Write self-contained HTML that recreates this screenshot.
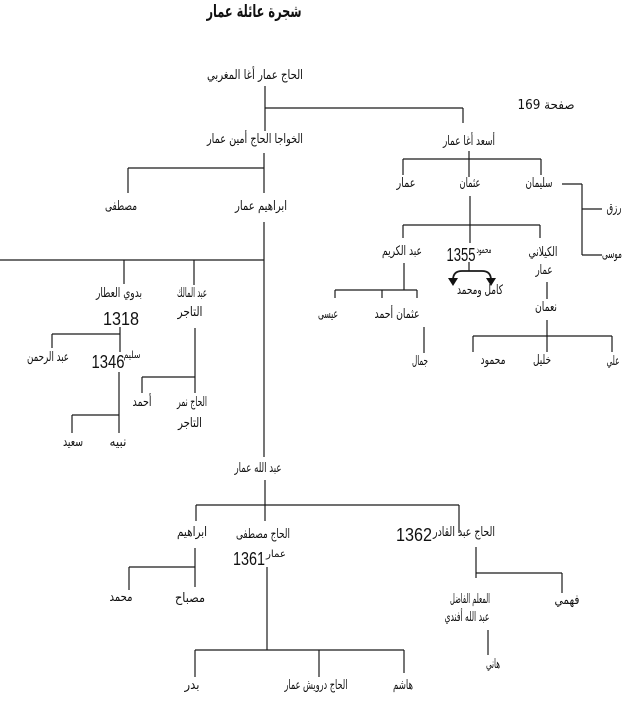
<!DOCTYPE html>
<html><head><meta charset="utf-8">
<style>
html,body{margin:0;padding:0;background:#fff;}
svg{display:block;}
text{font-family:"DejaVu Sans","Liberation Sans",sans-serif;font-size:13px;fill:#111;text-anchor:middle;}
.n{font-family:"Liberation Sans",sans-serif;font-size:18px;}
.s{font-size:10px;}
.t{font-weight:bold;font-size:17px;}
line,path{stroke:#1a1a1a;stroke-width:1.2;fill:none;}
</style></head>
<body>
<svg width="632" height="723" viewBox="0 0 632 723" xmlns="http://www.w3.org/2000/svg">
<!-- title -->
<text class="t" x="254" y="17" textLength="95" lengthAdjust="spacingAndGlyphs">شجرة عائلة عمار</text>

<!-- root -->
<text x="255" y="79" textLength="96" lengthAdjust="spacingAndGlyphs">الحاج عمار أغا المغربي</text>
<line x1="265" y1="86" x2="265" y2="131"/>
<line x1="265" y1="108" x2="463" y2="108"/>
<line x1="463" y1="108" x2="463" y2="123"/>
<text x="546" y="109" textLength="57" lengthAdjust="spacingAndGlyphs">صفحة 169</text>

<!-- level 2 -->
<text x="255" y="143" textLength="96" lengthAdjust="spacingAndGlyphs">الخواجا الحاج أمين عمار</text>
<text x="469" y="145" textLength="52" lengthAdjust="spacingAndGlyphs">أسعد أغا عمار</text>

<!-- Khawaja branch -->
<line x1="264" y1="153" x2="264" y2="193"/>
<line x1="128" y1="168" x2="264" y2="168"/>
<line x1="128" y1="168" x2="128" y2="193"/>
<text x="121" y="210" textLength="32" lengthAdjust="spacingAndGlyphs">مصطفى</text>
<text x="261" y="210" textLength="52" lengthAdjust="spacingAndGlyphs">ابراهيم عمار</text>
<line x1="264" y1="222" x2="264" y2="457"/>
<line x1="0" y1="260" x2="264" y2="260"/>
<line x1="124" y1="260" x2="124" y2="284"/>
<line x1="194" y1="260" x2="194" y2="285"/>
<text x="119" y="297" textLength="46" lengthAdjust="spacingAndGlyphs">بدوي العطار</text>
<text x="192" y="297" textLength="30" lengthAdjust="spacingAndGlyphs">عبد المالك</text>
<text class="n" x="121" y="325" textLength="36" lengthAdjust="spacingAndGlyphs">1318</text>
<text x="190" y="316" textLength="25" lengthAdjust="spacingAndGlyphs">التاجر</text>
<line x1="120" y1="327" x2="120" y2="352"/>
<line x1="52" y1="334" x2="120" y2="334"/>
<line x1="52" y1="334" x2="52" y2="348"/>
<text x="48" y="361" textLength="42" lengthAdjust="spacingAndGlyphs">عبد الرحمن</text>
<text class="n" x="108" y="368" textLength="33" lengthAdjust="spacingAndGlyphs">1346</text>
<text class="s" x="132" y="358" textLength="17" lengthAdjust="spacingAndGlyphs">سليم</text>
<line x1="119" y1="372" x2="119" y2="433"/>
<line x1="72" y1="415" x2="119" y2="415"/>
<line x1="72" y1="415" x2="72" y2="433"/>
<text x="73" y="446" textLength="20" lengthAdjust="spacingAndGlyphs">سعيد</text>
<text x="118" y="446" textLength="17" lengthAdjust="spacingAndGlyphs">نبيه</text>
<line x1="195" y1="328" x2="195" y2="393"/>
<line x1="142" y1="377" x2="195" y2="377"/>
<line x1="142" y1="377" x2="142" y2="393"/>
<text x="142" y="406" textLength="19" lengthAdjust="spacingAndGlyphs">أحمد</text>
<text x="192" y="406" textLength="30" lengthAdjust="spacingAndGlyphs">الحاج نمر</text>
<text x="190" y="427" textLength="24" lengthAdjust="spacingAndGlyphs">التاجر</text>

<!-- As'ad branch -->
<line x1="469" y1="151" x2="469" y2="177"/>
<line x1="403" y1="159" x2="541" y2="159"/>
<line x1="403" y1="159" x2="403" y2="175"/>
<line x1="541" y1="159" x2="541" y2="175"/>
<text x="406" y="187" textLength="19" lengthAdjust="spacingAndGlyphs">عمار</text>
<text x="470" y="187" textLength="21" lengthAdjust="spacingAndGlyphs">عثمان</text>
<text x="539" y="187" textLength="27" lengthAdjust="spacingAndGlyphs">سليمان</text>
<line x1="562" y1="184" x2="582" y2="184"/>
<line x1="582" y1="184" x2="582" y2="255"/>
<line x1="582" y1="209" x2="602" y2="209"/>
<line x1="582" y1="255" x2="602" y2="255"/>
<text x="614" y="212" textLength="15" lengthAdjust="spacingAndGlyphs">رزق</text>
<text x="612" y="258" textLength="20" lengthAdjust="spacingAndGlyphs">موسى</text>

<line x1="470" y1="196" x2="470" y2="243"/>
<line x1="403" y1="225" x2="540" y2="225"/>
<line x1="403" y1="225" x2="403" y2="238"/>
<line x1="540" y1="225" x2="540" y2="238"/>
<text x="402" y="255" textLength="40" lengthAdjust="spacingAndGlyphs">عبد الكريم</text>
<text class="n" x="461" y="261" textLength="29" lengthAdjust="spacingAndGlyphs">1355</text>
<text class="s" x="484" y="253" textLength="15" lengthAdjust="spacingAndGlyphs">محمود</text>
<text x="543" y="256" textLength="29" lengthAdjust="spacingAndGlyphs">الكيلاني</text>
<!-- arrows -->
<line x1="469" y1="262" x2="469" y2="271"/>
<path d="M453,280 Q453,271 462,271 L482,271 Q491,271 491,280" style="stroke-width:1.8"/>
<polygon points="448,278 458,278 453,286" fill="#111"/>
<polygon points="486,278 496,278 491,286" fill="#111"/>
<text x="480" y="294" textLength="46" lengthAdjust="spacingAndGlyphs">كامل ومحمد</text>
<text x="544" y="274" textLength="17" lengthAdjust="spacingAndGlyphs">عمار</text>
<line x1="547" y1="282" x2="547" y2="299"/>
<text x="546" y="311" textLength="22" lengthAdjust="spacingAndGlyphs">نعمان</text>
<line x1="547" y1="320" x2="547" y2="352"/>
<line x1="473" y1="336" x2="612" y2="336"/>
<line x1="473" y1="336" x2="473" y2="352"/>
<line x1="612" y1="336" x2="612" y2="352"/>
<text x="493" y="364" textLength="25" lengthAdjust="spacingAndGlyphs">محمود</text>
<text x="542" y="364" textLength="18" lengthAdjust="spacingAndGlyphs">خليل</text>
<text x="613" y="365" textLength="13" lengthAdjust="spacingAndGlyphs">علي</text>

<line x1="404" y1="263" x2="404" y2="290"/>
<line x1="335" y1="290" x2="417" y2="290"/>
<line x1="335" y1="290" x2="335" y2="298"/>
<line x1="382" y1="290" x2="382" y2="298"/>
<line x1="417" y1="290" x2="417" y2="298"/>
<text x="328" y="318" textLength="20" lengthAdjust="spacingAndGlyphs">عيسى</text>
<text x="397" y="318" textLength="45" lengthAdjust="spacingAndGlyphs">عثمان أحمد</text>
<line x1="424" y1="327" x2="424" y2="353"/>
<text x="420" y="365" textLength="16" lengthAdjust="spacingAndGlyphs">جمال</text>

<!-- Abdullah branch -->
<text x="258" y="472" textLength="47" lengthAdjust="spacingAndGlyphs">عبد الله عمار</text>
<line x1="265" y1="480" x2="265" y2="521"/>
<line x1="196" y1="505" x2="459" y2="505"/>
<line x1="196" y1="505" x2="196" y2="521"/>
<line x1="459" y1="505" x2="459" y2="533"/>
<text x="192" y="536" textLength="30" lengthAdjust="spacingAndGlyphs">ابراهيم</text>
<text x="263" y="538" textLength="54" lengthAdjust="spacingAndGlyphs">الحاج مصطفى</text>
<text class="n" x="249" y="565" textLength="32" lengthAdjust="spacingAndGlyphs">1361</text>
<text class="s" x="276" y="557" textLength="20" lengthAdjust="spacingAndGlyphs">عمار</text>
<line x1="195" y1="548" x2="195" y2="587"/>
<line x1="129" y1="567" x2="195" y2="567"/>
<line x1="129" y1="567" x2="129" y2="590"/>
<text x="121" y="601" textLength="23" lengthAdjust="spacingAndGlyphs">محمد</text>
<text x="190" y="602" textLength="30" lengthAdjust="spacingAndGlyphs">مصباح</text>
<line x1="267" y1="567" x2="267" y2="650"/>
<line x1="195" y1="650" x2="404" y2="650"/>
<line x1="195" y1="650" x2="195" y2="677"/>
<line x1="319" y1="650" x2="319" y2="677"/>
<line x1="404" y1="650" x2="404" y2="673"/>
<text x="192" y="689" textLength="15" lengthAdjust="spacingAndGlyphs">بدر</text>
<text x="316" y="689" textLength="63" lengthAdjust="spacingAndGlyphs">الحاج درويش عمار</text>
<text x="403" y="689" textLength="20" lengthAdjust="spacingAndGlyphs">هاشم</text>

<text x="464" y="536" textLength="62" lengthAdjust="spacingAndGlyphs">الحاج عبد القادر</text>
<text class="n" x="414" y="541" textLength="36" lengthAdjust="spacingAndGlyphs">1362</text>
<line x1="476" y1="547" x2="476" y2="578"/>
<line x1="476" y1="573" x2="562" y2="573"/>
<line x1="562" y1="573" x2="562" y2="593"/>
<text x="470" y="603" textLength="40" lengthAdjust="spacingAndGlyphs">المعلم الفاضل</text>
<text x="567" y="604" textLength="25" lengthAdjust="spacingAndGlyphs">فهمي</text>
<text x="467" y="621" textLength="45" lengthAdjust="spacingAndGlyphs">عبد الله أفندي</text>
<line x1="488" y1="630" x2="488" y2="655"/>
<text x="493" y="668" textLength="14" lengthAdjust="spacingAndGlyphs">هاني</text>
</svg>
</body></html>
